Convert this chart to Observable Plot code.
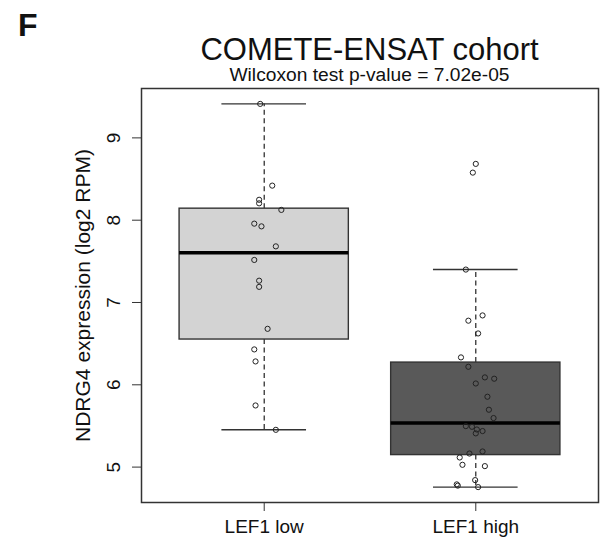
<!DOCTYPE html>
<html>
<head>
<meta charset="utf-8">
<script src="https://cdn.jsdelivr.net/npm/d3@7"></script>
<script src="https://cdn.jsdelivr.net/npm/@observablehq/plot@0.6"></script>
<style>
  body { margin: 0; background: white; }
  #hdr { position: relative; z-index: 1; height: 80px; width: 605px; font-family: "Liberation Sans", Arial, sans-serif; color: #111; }
  #hdr div { position: absolute; white-space: nowrap; }
  #panel { left: 18px; top: 9px; font-weight: bold; font-size: 32px; line-height: 32px; font-family: "Liberation Sans Narrow", "Liberation Sans", Arial, sans-serif; }
  #title { left: 141px; width: 457px; top: 37px; text-align: center; font-size: 31px; line-height: 26px; }
  #subtitle { left: 141px; width: 457px; top: 66px; text-align: center; font-size: 19.2px; line-height: 17px; }
</style>
</head>
<body>
<div id="hdr">
  <div id="panel">F</div>
  <div id="title">COMETE-ENSAT cohort</div>
  <div id="subtitle">Wilcoxon test p-value = 7.02e-05</div>
</div>
<div id="chart"></div>
<script>
// ---- data ----
const groups = ["LEF1 low", "LEF1 high"];
const yTicks = [5, 6, 7, 8, 9];
const yLabel = "NDRG4 expression (log2 RPM)";

// box statistics per group
const q1 = [6.55, 5.146];
const medians = [7.605, 5.535];
const q3 = [8.14, 6.27];
const whiskerLow = [5.453, 4.757];
const whiskerHigh = [9.413, 7.40];

// individual samples (stripchart, jittered)
const lowValues = [9.413, 8.42, 8.248, 8.205, 8.125, 7.958, 7.925, 7.682, 7.517, 7.265, 7.19, 6.68, 6.43, 6.284, 5.749, 5.453];
const lowJitter = [-0.019, 0.038, -0.024, -0.024, 0.081, -0.047, -0.013, 0.055, -0.047, -0.024, -0.024, 0.016, -0.047, -0.041, -0.041, 0.055];
const highValues = [8.684, 8.578, 7.40, 6.843, 6.779, 6.624, 6.333, 6.219, 6.09, 6.074, 6.016, 5.855, 5.697, 5.596, 5.498, 5.49, 5.457, 5.438, 5.41, 5.19, 5.165, 5.117, 5.028, 5.012, 4.842, 4.79, 4.775, 4.757];
const highJitter = [0, -0.014, -0.047, 0.032, -0.035, 0.011, -0.07, -0.035, 0.043, 0.087, 0, 0.055, 0.062, 0.084, -0.047, -0.018, 0.005, 0.032, 0, 0.032, -0.03, -0.076, -0.063, 0.043, -0.003, -0.09, -0.085, 0.011];

// ---- styles ----
const boxFills = ["#d3d3d3", "#595959"];
const boxHalf = 0.4, capHalf = 0.2;

// ---- derived tables ----
const boxes = groups.map((g, i) => ({
  pos: i + 1, fill: boxFills[i],
  q1: q1[i], med: medians[i], q3: q3[i], lo: whiskerLow[i], hi: whiskerHigh[i]
}));
const points = [
  ...lowValues.map((v, i) => ({x: 1 + lowJitter[i], y: v})),
  ...highValues.map((v, i) => ({x: 2 + highJitter[i], y: v}))
];

const ink = "#222";
const chart = Plot.plot({
  width: 605,
  height: 461,
  marginTop: 8,
  marginBottom: 39,
  marginLeft: 141,
  marginRight: 7,
  style: {fontFamily: "'Liberation Sans', Arial, sans-serif", fontSize: "19px", color: "#111", background: "none", overflow: "visible"},
  x: {type: "linear", domain: [0.42, 2.58]},
  y: {domain: [4.57, 9.6]},
  marks: [
    // whiskers (dashed)
    Plot.ruleX(boxes, {x: "pos", y1: "q3", y2: "hi", stroke: ink, strokeWidth: 1.2, strokeDasharray: "5,3.5"}),
    Plot.ruleX(boxes, {x: "pos", y1: "q1", y2: "lo", stroke: ink, strokeWidth: 1.2, strokeDasharray: "5,3.5"}),
    // caps
    Plot.ruleY(boxes, {y: "hi", x1: d => d.pos - capHalf, x2: d => d.pos + capHalf, stroke: "#333", strokeWidth: 1.4}),
    Plot.ruleY(boxes, {y: "lo", x1: d => d.pos - capHalf, x2: d => d.pos + capHalf, stroke: "#333", strokeWidth: 1.4}),
    // boxes
    Plot.rect(boxes, {x1: d => d.pos - boxHalf, x2: d => d.pos + boxHalf, y1: "q1", y2: "q3", fill: "fill", stroke: "#333", strokeWidth: 1.4}),
    // medians
    Plot.ruleY(boxes, {y: "med", x1: d => d.pos - boxHalf, x2: d => d.pos + boxHalf, stroke: "#000", strokeWidth: 3.5}),
    // samples
    Plot.dot(points, {x: "x", y: "y", r: 2.6, stroke: ink, strokeWidth: 1, fill: "none"}),
    // frame & axes
    Plot.frame({stroke: "#333", strokeWidth: 1.5}),
    Plot.axisX({ticks: [1, 2], tickFormat: d => groups[d - 1], tickSize: 9, tickPadding: 8, label: null, fontSize: 19, stroke: "#333"}),
    Plot.axisY({ticks: yTicks, tickFormat: () => "", tickSize: 9, label: null, stroke: "#333"}),
    Plot.text(yTicks, {frameAnchor: "left", y: d => d, text: d => String(d), rotate: -90, dx: -27.5, textAnchor: "middle", lineAnchor: "middle", fontSize: 19, fill: "#111"}),
    Plot.text([yLabel], {frameAnchor: "left", rotate: -90, dx: -58, textAnchor: "middle", lineAnchor: "middle", fontSize: 21, fill: "#111"})
  ]
});
document.getElementById("chart").appendChild(chart);
</script>
</body>
</html>
